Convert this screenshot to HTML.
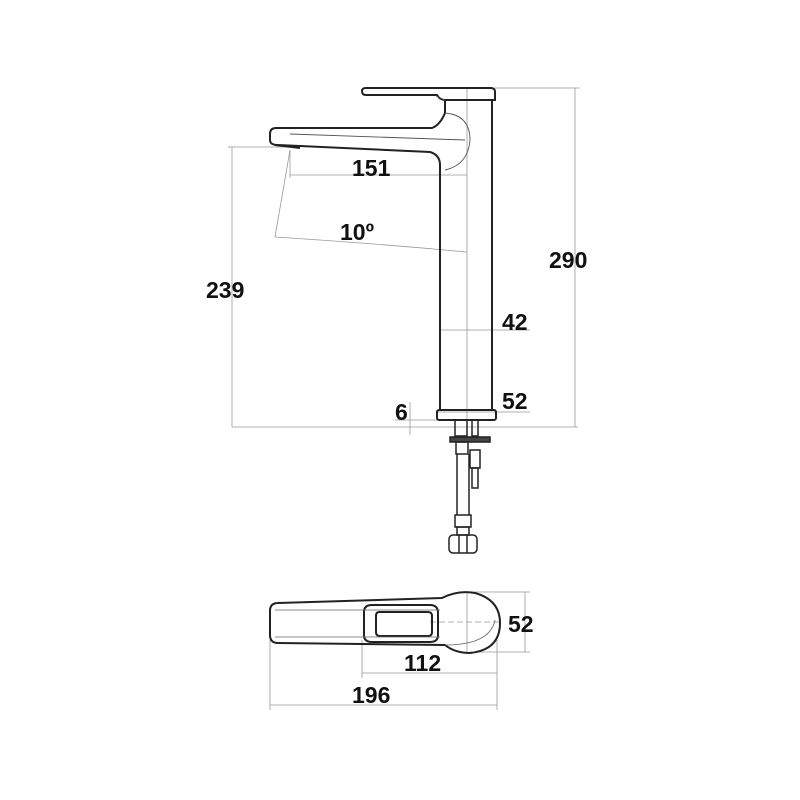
<!DOCTYPE html>
<html><head><style>body{margin:0;background:#fff}svg{display:block}text{font-family:"Liberation Sans",sans-serif;font-weight:bold;fill:#111}</style></head>
<body>
<svg width="800" height="800" viewBox="0 0 800 800" xmlns="http://www.w3.org/2000/svg">
<g fill="none" stroke="#999" stroke-width="0.8">
<line x1="232" y1="427" x2="578" y2="427"/>
<line x1="228" y1="147" x2="290" y2="147"/>
<line x1="232" y1="147" x2="232" y2="427"/>
<line x1="495" y1="88" x2="580" y2="88"/>
<line x1="575" y1="88" x2="575" y2="427"/>
<line x1="290" y1="150" x2="290" y2="178"/>
<line x1="290" y1="175" x2="467" y2="175"/>
<line x1="467" y1="88" x2="467" y2="427"/>
<line x1="275" y1="237" x2="290" y2="150"/>
<path d="M275,237 Q370,243 467,252"/>
<line x1="440" y1="330" x2="530" y2="330"/>
<line x1="437" y1="412" x2="530" y2="412"/>
<line x1="410" y1="402" x2="410" y2="435"/>
<line x1="395" y1="420" x2="437" y2="420"/>
<line x1="270" y1="640" x2="270" y2="710"/>
<line x1="497" y1="640" x2="497" y2="710"/>
<line x1="270" y1="705" x2="497" y2="705"/>
<line x1="362" y1="640" x2="362" y2="678"/>
<line x1="362" y1="673" x2="497" y2="673"/>
<line x1="470" y1="592" x2="530" y2="592"/>
<line x1="470" y1="652" x2="530" y2="652"/>
<line x1="525" y1="592" x2="525" y2="652"/>
<line x1="430" y1="622" x2="500" y2="622" stroke-dasharray="6,3"/>
<line x1="467" y1="592" x2="467" y2="652"/>
</g>
<g fill="none" stroke="#222" stroke-width="2">
<path d="M366,88 H491 Q495,88 495,92 V100 H445 Q440,100 437,95 L366,95 Q362,95 362,91 Q362,88 366,88 Z"/>
<path d="M445,100 V113 Q440,125 432,128 H276 Q270,128 270,134 V140 Q270,145 278,145 L430,152 Q440,155 440,165 V410"/>
<line x1="492" y1="100" x2="492" y2="410"/>
<rect x="437" y="410" width="59" height="10" rx="2"/>
<line x1="275" y1="145" x2="300" y2="148"/>
</g>
<g fill="none" stroke="#555" stroke-width="0.9">
<path d="M445,113 Q470,115 470,140 Q468,165 445,170"/>
<line x1="290" y1="134" x2="465" y2="140"/>
<path d="M436,96 L445,100"/>
</g>
<g fill="none" stroke="#222" stroke-width="1.5">
<rect x="455" y="420" width="12" height="16"/>
<rect x="472" y="420" width="6" height="16"/>
<rect x="450" y="437" width="40" height="5" fill="#444"/>
<rect x="456" y="442" width="12" height="12"/>
<rect x="470" y="450" width="10" height="18"/>
<rect x="472" y="468" width="6" height="20"/>
<line x1="457" y1="454" x2="457" y2="515"/><line x1="469" y1="454" x2="469" y2="515"/>
<rect x="455" y="515" width="16" height="12"/>
<rect x="457" y="527" width="12" height="8"/>
<rect x="449" y="535" width="28" height="18" rx="4"/>
<line x1="459" y1="535" x2="459" y2="553"/><line x1="467" y1="535" x2="467" y2="553"/>
</g>
<g fill="none" stroke="#222" stroke-width="2">
<path d="M278,603 L442,598 Q458,590 475,593 Q500,600 500,623 Q500,650 470,653 Q455,653 445,645 L278,643 Q270,643 270,635 V611 Q270,603 278,603 Z"/>
<path d="M372,605 H430 Q438,605 438,613 V635 Q438,642 430,642 H372 Q364,642 364,635 V612 Q364,605 372,605 Z"/>
<path d="M379,612 H428 Q432,612 432,616 V632 Q432,636 428,636 H380 Q376,636 376,632 V616 Q376,612 379,612 Z"/>
</g>
<g fill="none" stroke="#666" stroke-width="0.8"><path d="M275,610 H440 M275,637 H440 M445,645 Q490,645 495,620"/></g>
<g font-size="23">
<text x="352" y="176">151</text>
<text x="340" y="240">10º</text>
<text x="206" y="298">239</text>
<text x="549" y="268">290</text>
<text x="502" y="330">42</text>
<text x="502" y="409">52</text>
<text x="395" y="420">6</text>
<text x="508" y="632">52</text>
<text x="404" y="671">112</text>
<text x="352" y="703">196</text>
</g>
</svg>
</body></html>
